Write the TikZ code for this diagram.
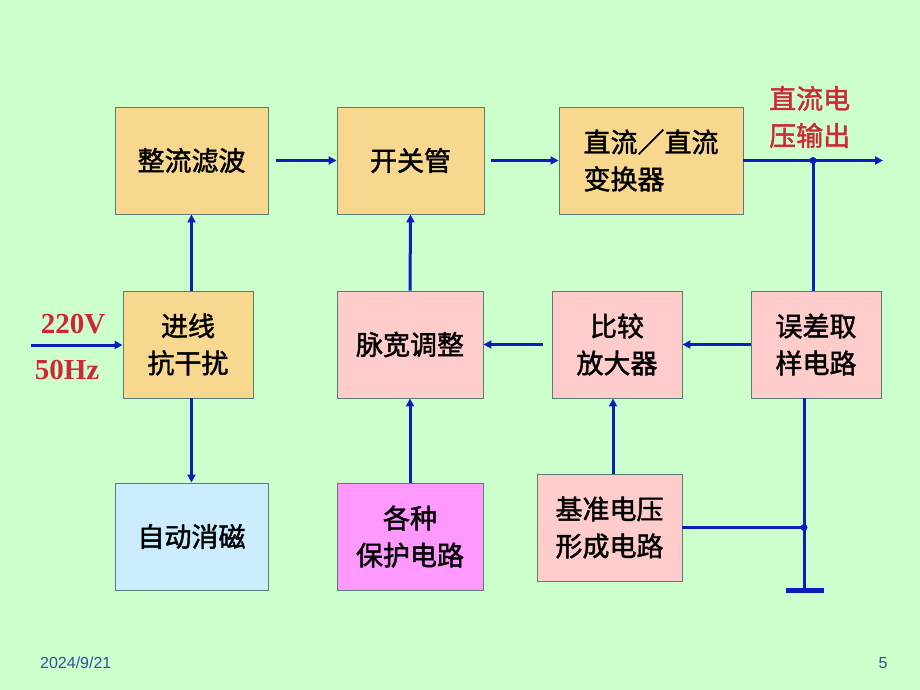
\documentclass[tikz,border=0pt]{standalone}
\usepackage{fontspec}
\setmainfont{Liberation Serif}
\newfontfamily\cjk[FakeBold=1.6]{Noto Sans CJK SC}
\newfontfamily\footfont{Liberation Sans}
\usetikzlibrary{arrows.meta}
\definecolor{bgc}{RGB}{204,255,204}
\definecolor{tan}{RGB}{247,216,142}
\definecolor{pinkc}{RGB}{255,204,204}
\definecolor{magc}{RGB}{255,153,255}
\definecolor{bluec}{RGB}{204,236,255}
\definecolor{bordc}{RGB}{90,125,115}
\definecolor{wirec}{RGB}{10,30,190}
\definecolor{redc}{RGB}{204,40,55}
\definecolor{footc}{RGB}{50,80,160}
\begin{document}
\begin{tikzpicture}[x=1pt,y=-1pt,
  blk/.style={draw=bordc,line width=0.9pt,minimum height=107pt,inner sep=0pt,align=center,
    font=\cjk\fontsize{27}{37}\selectfont},
  wire/.style={draw=wirec,line width=3pt},
  arr/.style={wire,-{Triangle[length=8pt,width=8pt]}},
  lab/.style={text=redc,font=\bfseries\fontsize{29}{30}\selectfont,inner sep=0pt},
  dot/.style={circle,fill=wirec,inner sep=0pt,minimum size=7pt}]
\fill[bgc] (0,0) rectangle (920,690);
\useasboundingbox (0,0) rectangle (920,690);
% boxes
\node[blk,fill=tan,minimum width=153pt] (zl) at (191.5,160.5) {整流滤波};
\node[blk,fill=tan,minimum width=147pt] (kg) at (410.5,160.5) {开关管};
\node[blk,fill=tan,minimum width=184pt,align=left] (zh) at (651,160.5) {直流／直流\\变换器};
\node[blk,fill=tan,minimum width=130pt] (jx) at (188,344.5) {进线\\抗干扰};
\node[blk,fill=pinkc,minimum width=146pt] (mk) at (410,344.5) {脉宽调整};
\node[blk,fill=pinkc,minimum width=130pt] (bj) at (617,344.5) {比较\\放大器};
\node[blk,fill=pinkc,minimum width=130pt] (wc) at (816,344.5) {误差取\\样电路};
\node[blk,fill=bluec,minimum width=153pt] (zd) at (191.5,536.5) {自动消磁};
\node[blk,fill=magc,minimum width=146pt] (bh) at (410,536.5) {各种\\保护电路};
\node[blk,fill=pinkc,minimum width=145pt] (jz) at (609.5,527.5) {基准电压\\形成电路};
% labels
\node[lab] (v220) at (73,324) {220V};
\node[lab] (hz50) at (67,370) {50Hz};
\node[text=redc,font=\cjk\fontsize{27}{37}\selectfont,align=left,anchor=west,inner sep=0pt] (out) at (769,117) {直流电\\压输出};
\node[font=\footfont\fontsize{16}{18}\selectfont,text=footc,anchor=west,inner sep=0pt] (date) at (40,663) {2024/9/21};
\node[font=\footfont\fontsize{16}{18}\selectfont,text=footc,inner sep=0pt] (pg) at (883,663) {5};
% coordinates
\coordinate (in) at (31,345);
\coordinate (j1) at (813,160.5);
\coordinate (oe) at (883,160.5);
\coordinate (j2) at (804,527.5);
\coordinate (gnd) at (804,590);
% connectors
\draw[arr] (in) -- (jx.west |- in);
\draw[arr] ([xshift=8pt]zl.east) -- (kg.west);
\draw[arr] ([xshift=7pt]kg.east) -- (zh.west);
\draw[arr] (zh.east) -- (oe);
\draw[wire] (j1) -- (j1 |- wc.north);
\node[dot] at (j1) {};
\draw[arr] (wc.west) -- (bj.east);
\draw[arr] ([xshift=-9pt]bj.west) -- (mk.east);
\draw[arr] (mk.north) -- (kg.south);
\draw[arr] (zl.south |- jx.north) -- (zl.south);
\draw[arr] (zl.south |- jx.south) -- (zd.north);
\draw[arr] (bh.north) -- (mk.south);
\draw[arr] ([xshift=3.5pt]jz.north) -- ([xshift=3.5pt]jz.north |- bj.south);
\draw[wire] (jz.east) -- (j2);
\draw[wire] (j2 |- wc.south) -- (gnd);
\node[dot] at (j2) {};
\draw[draw=wirec,line width=5pt] ([xshift=-18pt]gnd) -- ([xshift=20pt]gnd);
\end{tikzpicture}
\end{document}
